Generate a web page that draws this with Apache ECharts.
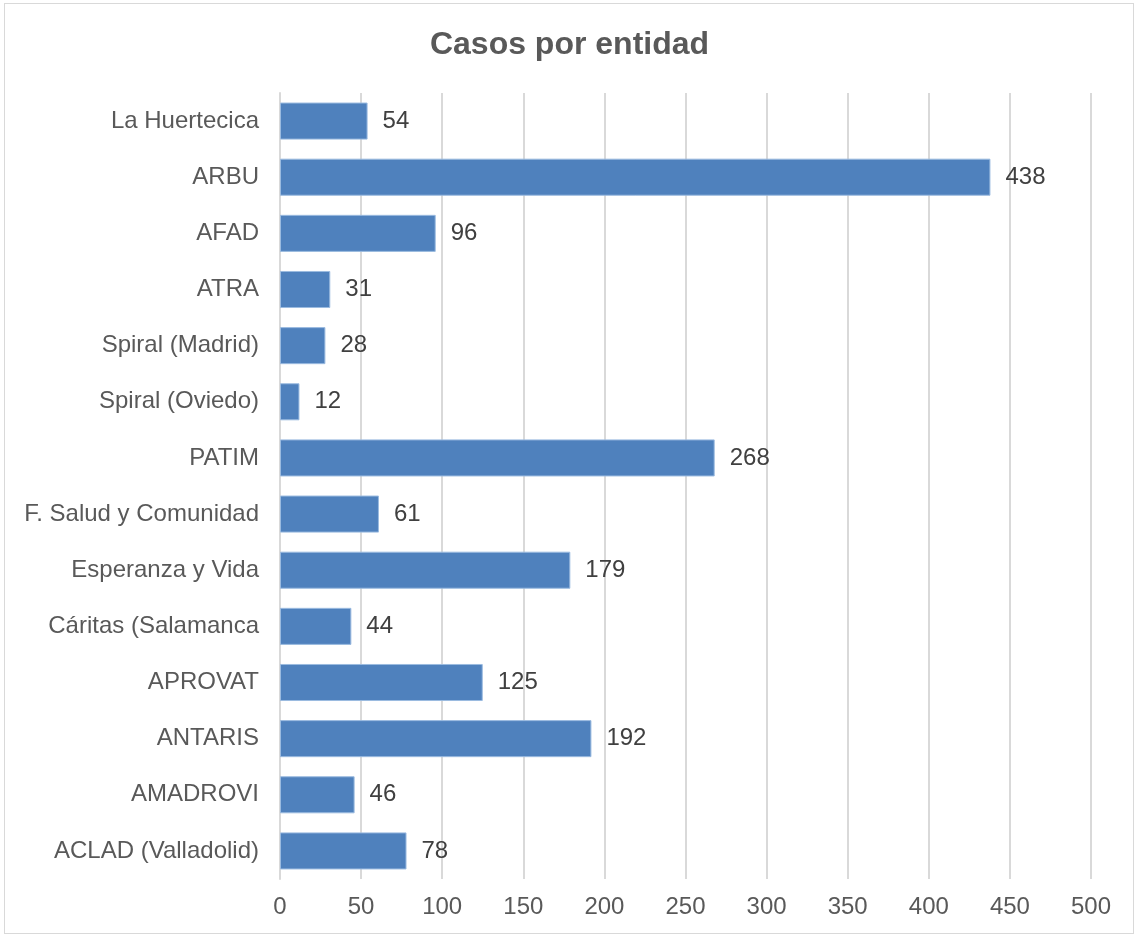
<!DOCTYPE html>
<html>
<head>
<meta charset="utf-8">
<script src="https://cdn.jsdelivr.net/npm/echarts@6/dist/echarts.min.js"></script>
<style>
  html, body { margin: 0; padding: 0; background: #fff; }
  #main { width: 1139px; height: 938px; }
  #frame { position: absolute; left: 4px; top: 3px; width: 1130px; height: 931px; border: 1px solid #d9d9d9; box-sizing: border-box; pointer-events: none; }
</style>
</head>
<body>
<div id="main"></div>
<div id="frame"></div>
<script>
// categories, top to bottom as in the picture
const entidades = [
  'La Huertecica', 'ARBU', 'AFAD', 'ATRA', 'Spiral (Madrid)', 'Spiral (Oviedo)',
  'PATIM', 'F. Salud y Comunidad', 'Esperanza y Vida', 'Cáritas (Salamanca',
  'APROVAT', 'ANTARIS', 'AMADROVI', 'ACLAD (Valladolid)'
];
const casos = [54, 438, 96, 31, 28, 12, 268, 61, 179, 44, 125, 192, 46, 78];

const chart = echarts.init(document.getElementById('main'));

const option = {
  backgroundColor: '#ffffff',
  textStyle: { fontFamily: 'Liberation Sans, Arial, sans-serif' },
  title: {
    text: 'Casos por entidad',
    left: 'center',
    top: 24,
    textStyle: { fontSize: 32, fontWeight: 'bold', color: '#595959', fontFamily: 'Liberation Sans, Arial, sans-serif' }
  },
  grid: { left: 280, right: 48, top: 93, bottom: 59, containLabel: false },
  xAxis: {
    type: 'value',
    min: 0,
    max: 500,
    interval: 50,
    axisLine: { show: false },
    axisTick: { show: false },
    splitLine: { show: true, lineStyle: { color: '#d9d9d9', width: 2 } },
    axisLabel: { fontSize: 24, color: '#595959', margin: 16 }
  },
  yAxis: {
    type: 'category',
    inverse: true,
    data: entidades,
    axisLine: { show: true, lineStyle: { color: '#d9d9d9', width: 2 } },
    axisTick: { show: false },
    axisLabel: { fontSize: 24, color: '#595959', margin: 21 }
  },
  series: [
    {
      name: 'Casos',
      type: 'bar',
      data: casos,
      barCategoryGap: '34%',
      itemStyle: { color: '#4f81bd', borderColor: '#9bbbe0', borderWidth: 1 },
      label: {
        show: true,
        position: 'right',
        distance: 15,
        fontSize: 24,
        color: '#404040'
      }
    }
  ]
};

chart.setOption(option);
</script>
</body>
</html>
